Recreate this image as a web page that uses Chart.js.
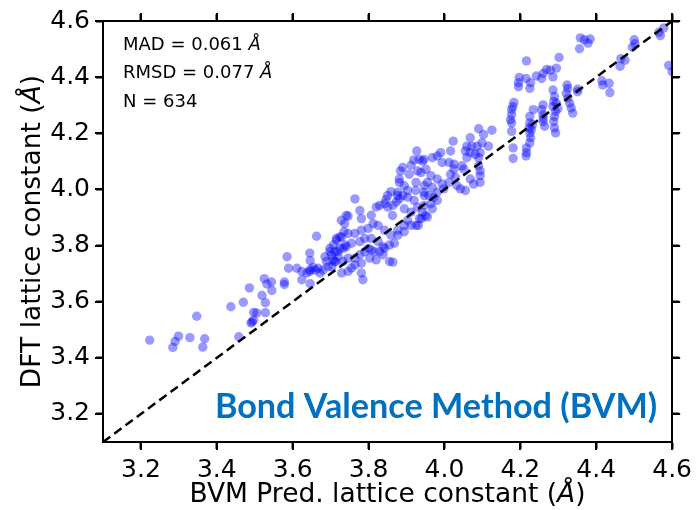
<!DOCTYPE html>
<html lang="en">
<head>
<meta charset="UTF-8">
<title>BVM vs DFT lattice constant</title>
<style>
  html, body { margin: 0; padding: 0; background: #fff; }
</style>
</head>
<body>
<canvas id="myChart" width="698" height="510"></canvas>

<script src="https://cdn.jsdelivr.net/npm/chart.js"></script>
<script>
// axis ranges / ticks
const axisMin = 3.1;
const axisMax = 4.6;
const tickVals = [3.2, 3.4, 3.6, 3.8, 4.0, 4.2, 4.4, 4.6];

// text in the corner
const statLines = [
  { label: 'MAD = 0.061 ', unit: 'Å' },
  { label: 'RMSD = 0.077 ', unit: 'Å' },
  { label: 'N = 634', unit: '' }
];
const methodLabel = 'Bond Valence Method (BVM)';

// [BVM predicted, DFT] pairs
const lowTail = [[3.223,3.463],[3.299,3.477],[3.290,3.458],[3.284,3.437],[3.329,3.472],[3.368,3.468],[3.363,3.438],[3.347,3.548],[3.437,3.582],[3.470,3.598],[3.486,3.649],[3.458,3.475],[3.493,3.528],[3.490,3.524],[3.497,3.534],[3.497,3.562],[3.505,3.560]];

const lowerBand = [[3.519,3.622],[3.528,3.596],[3.528,3.561],[3.525,3.682],[3.532,3.663],[3.544,3.670],[3.545,3.640],[3.578,3.670],[3.578,3.661],[3.585,3.760],[3.589,3.719],[3.611,3.719],[3.624,3.678],[3.646,3.664],[3.646,3.714],[3.663,3.833],[3.645,3.773],[3.646,3.746],[3.624,3.708],[3.637,3.702],[3.645,3.708],[3.659,3.713],[3.667,3.719],[3.672,3.702],[3.654,3.722],[3.689,3.743],[3.702,3.766],[3.715,3.825],[3.724,3.831],[3.735,3.849],[3.706,3.749],[3.713,3.743],[3.693,3.725],[3.680,3.713],[3.719,3.778],[3.733,3.790],[3.741,3.796],[3.685,3.760],[3.698,3.778],[3.737,3.878],[3.728,3.890]];

const coreA = [[3.764,3.966],[3.777,3.925],[3.746,3.905],[3.781,3.896],[3.807,3.908],[3.820,3.937],[3.829,3.943],[3.842,3.949],[3.851,3.937],[3.864,3.943],[3.873,3.955],[3.881,3.966],[3.890,3.978],[3.903,3.972],[3.920,3.961],[3.929,3.937],[3.912,3.919],[3.903,3.890],[3.925,3.872],[3.934,3.896],[3.894,3.872],[3.877,3.855],[3.859,3.837],[3.842,3.855],[3.825,3.872],[3.812,3.878],[3.799,3.861],[3.781,3.855],[3.764,3.843],[3.746,3.843],[3.729,3.831],[3.716,3.819],[3.707,3.802],[3.698,3.790],[3.711,3.778],[3.724,3.790],[3.738,3.802],[3.755,3.808],[3.777,3.814],[3.790,3.825],[3.807,3.825],[3.825,3.814],[3.838,3.796],[3.855,3.802],[3.868,3.808],[3.799,3.790],[3.790,3.778],[3.777,3.767],[3.764,3.755],[3.746,3.755],[3.733,3.743],[3.711,3.743],[3.703,3.725],[3.755,3.720],[3.781,3.737],[3.803,3.755],[3.820,3.749],[3.838,3.767],[3.855,3.743],[3.877,3.837],[3.894,3.849],[3.912,3.872],[3.781,3.702],[3.785,3.678],[3.764,3.731],[3.746,3.708],[3.729,3.702],[3.720,3.761],[3.816,3.778],[3.829,3.778],[3.842,3.790],[3.864,3.741]];

const coreB = [[3.927,4.137],[3.919,4.105],[3.942,4.101],[3.912,4.086],[3.890,4.078],[3.929,4.066],[3.884,4.066],[3.907,4.054],[3.881,4.037],[3.881,4.025],[3.925,4.025],[3.859,3.992],[3.877,3.990],[3.903,3.996],[3.846,3.964],[3.947,4.013],[3.947,3.978],[3.741,3.907],[3.850,3.978],[3.863,3.907],[3.894,3.931],[3.950,3.907],[3.807,3.784],[3.894,4.013],[3.876,3.978],[3.924,3.996]];

const coreC = [[4.090,4.216],[4.125,4.211],[4.068,4.184],[4.103,4.196],[4.023,4.172],[4.099,4.166],[4.116,4.154],[4.059,4.154],[4.072,4.154],[4.086,4.154],[4.055,4.137],[4.068,4.131],[4.081,4.125],[4.094,4.131],[4.059,4.113],[4.090,4.113],[3.990,4.131],[4.016,4.137],[3.981,4.119],[3.968,4.113],[3.946,4.107],[3.933,4.107],[3.994,4.096],[4.012,4.096],[4.025,4.090],[4.046,4.084],[4.051,4.072],[4.090,4.084],[4.094,4.066],[4.094,4.049],[4.094,4.025],[4.025,4.072],[4.016,4.054],[4.029,4.043],[4.012,4.025],[4.033,4.013],[3.998,4.002],[3.981,4.037],[3.964,4.049],[3.951,4.072],[3.938,4.060],[3.955,4.025],[3.968,4.007],[3.946,3.990],[3.981,3.990],[3.994,4.019],[4.068,4.037],[4.077,4.019],[4.055,3.996],[4.042,4.002],
  [3.959,3.978],[3.972,3.972],[3.981,3.961],[3.964,3.949],[3.946,3.943],[3.968,3.931],[3.942,3.919],[3.955,3.902],[3.939,3.896],[3.931,3.872]];

const upperGroup = [[4.216,4.458],[4.302,4.470],[4.269,4.427],[4.279,4.425],[4.295,4.432],[4.260,4.413],[4.286,4.401],[4.197,4.399],[4.215,4.395],[4.242,4.404],[4.256,4.395],[4.195,4.380],[4.227,4.380],[4.195,4.366],[4.225,4.360]];

const streaks = [[4.183,4.310],[4.180,4.295],[4.177,4.284],[4.177,4.266],[4.174,4.248],[4.177,4.237],[4.177,4.207],[4.181,4.148],[4.181,4.110],
  [4.234,4.284],[4.225,4.260],[4.225,4.237],[4.223,4.219],[4.225,4.201],[4.227,4.184],[4.225,4.166],[4.216,4.148],[4.216,4.131],[4.215,4.119],[4.229,4.213],[4.232,4.231],
  [4.260,4.301],[4.260,4.266],[4.260,4.242],[4.264,4.225],[4.256,4.284],[4.260,4.254],
  [4.286,4.354],[4.290,4.331],[4.288,4.313],[4.286,4.295],[4.293,4.278],[4.290,4.260],[4.288,4.242],[4.290,4.219],[4.293,4.201],[4.295,4.307],[4.299,4.288],
  [4.325,4.360],[4.321,4.342],[4.325,4.325],[4.330,4.307],[4.334,4.290],[4.338,4.272],[4.323,4.372]];

const topRight = [[4.358,4.540],[4.369,4.533],[4.384,4.536],[4.378,4.521],[4.356,4.501],[4.500,4.533],[4.502,4.519],[4.495,4.507],[4.565,4.560],[4.569,4.548],[4.578,4.575],[4.465,4.466],[4.476,4.460],[4.463,4.439],[4.591,4.442],[4.600,4.419],[4.415,4.387],[4.417,4.372],[4.434,4.378],[4.436,4.345],[4.351,4.357],[4.351,4.348]];

const allPts = [].concat(lowTail, lowerBand, coreA, coreB, coreC, upperGroup, streaks, topRight);

const tickFont = { family: 'DejaVu Sans', size: 25 };

function fixedTicks(axis) {
  axis.ticks = tickVals.map(v => ({ value: v }));
}

function axisCfg(pos, size, showLabels) {
  return {
    type: 'linear',
    position: pos,
    min: axisMin,
    max: axisMax,
    afterBuildTicks: fixedTicks,
    afterFit: (s) => {
      if (pos === 'top' || pos === 'bottom') s.height = size;
      else s.width = size;
    },
    ticks: {
      display: showLabels,
      font: tickFont,
      color: '#000',
      padding: 6,
      maxRotation: 0,
      autoSkip: false,
      callback: v => v.toFixed(1)
    },
    grid: {
      drawOnChartArea: false,
      drawTicks: true,
      tickLength: 7,
      tickWidth: 2,
      tickColor: '#000'
    },
    border: { display: true, color: '#000', width: 2 }
  };
}

// draw the free text: stats, method label, axis titles (Å is italic)
function drawParts(ctx, parts, x, y, size) {
  let cx = x;
  parts.forEach(p => {
    ctx.font = (p.it ? 'italic ' : '') + size + 'px "DejaVu Sans"';
    ctx.fillText(p.t, cx, y);
    cx += ctx.measureText(p.t).width;
  });
}
function partsWidth(ctx, parts, size) {
  let w = 0;
  parts.forEach(p => {
    ctx.font = (p.it ? 'italic ' : '') + size + 'px "DejaVu Sans"';
    w += ctx.measureText(p.t).width;
  });
  return w;
}

const textPlugin = {
  id: 'texts',
  afterDraw(chart) {
    const { ctx, chartArea: a } = chart;
    const sx = chart.scales.x, sy = chart.scales.y;
    ctx.save();
    ctx.setLineDash([]);

    // outward tick marks on all four sides
    ctx.fillStyle = '#000';
    tickVals.forEach(v => {
      let px = sx.getPixelForValue(v);
      let py = sy.getPixelForValue(v);
      if (!isFinite(px)) px = a.left + (v - axisMin) / (axisMax - axisMin) * (a.right - a.left);
      if (!isFinite(py)) py = a.bottom - (v - axisMin) / (axisMax - axisMin) * (a.bottom - a.top);
      px = Math.round(px); py = Math.round(py);
      ctx.fillRect(px - 1, a.bottom, 2, 8);
      ctx.fillRect(px - 1, a.top - 8, 2, 8);
      ctx.fillRect(a.left - 8, py - 1, 8, 2);
      ctx.fillRect(a.right, py - 1, 8, 2);
    });

    ctx.textAlign = 'left';
    ctx.textBaseline = 'alphabetic';

    statLines.forEach((s, i) => {
      drawParts(ctx, [{ t: s.label }, { t: s.unit, it: true }], a.left + 20, a.top + 29 + i * 28.3, 18);
    });

    // x title
    const xParts = [{ t: 'BVM Pred. lattice constant (' }, { t: 'Å', it: true }, { t: ')' }];
    const xw = partsWidth(ctx, xParts, 26.5);
    drawParts(ctx, xParts, (a.left + a.right) / 2 - xw / 2, 502, 26.5);

    // y title
    const yParts = [{ t: 'DFT lattice constant (' }, { t: 'Å', it: true }, { t: ')' }];
    const yw = partsWidth(ctx, yParts, 26.5);
    ctx.save();
    ctx.translate(40, (a.top + a.bottom) / 2);
    ctx.rotate(-Math.PI / 2);
    drawParts(ctx, yParts, -yw / 2, 0, 26.5);
    ctx.restore();

    // method label, bold blue, right side
    ctx.font = 'bold 100px Lato';
    const w100 = ctx.measureText(methodLabel).width;
    const fs = 100 * 442 / w100;
    ctx.font = 'bold ' + fs.toFixed(1) + 'px Lato';
    ctx.fillStyle = '#0070C0';
    ctx.textAlign = 'right';
    ctx.fillText(methodLabel, a.right - 15, a.bottom - 24);
    ctx.restore();
  }
};

const ctx = document.getElementById('myChart').getContext('2d');
new Chart(ctx, {
  type: 'scatter',
  data: {
    datasets: [
      {
        type: 'line',
        data: [{ x: axisMin, y: axisMin }, { x: axisMax, y: axisMax }],
        borderColor: '#000',
        borderWidth: 2.5,
        borderDash: [9, 5],
        pointRadius: 0,
        fill: false
      },
      {
        data: allPts.map(p => ({ x: p[0], y: p[1] })),
        backgroundColor: 'rgba(0, 0, 255, 0.4)',
        borderWidth: 0,
        pointRadius: 4.7,
        pointHoverRadius: 4.7,
        clip: 0
      }
    ]
  },
  options: {
    responsive: false,
    animation: false,
    devicePixelRatio: 1,
    layout: { padding: 0 },
    plugins: {
      legend: { display: false },
      tooltip: { enabled: false }
    },
    scales: {
      x: axisCfg('bottom', 68, true),
      y: axisCfg('left', 103, true),
      x2: axisCfg('top', 17, false),
      y2: axisCfg('right', 21, false)
    }
  },
  plugins: [textPlugin]
});
</script>
</body>
</html>
